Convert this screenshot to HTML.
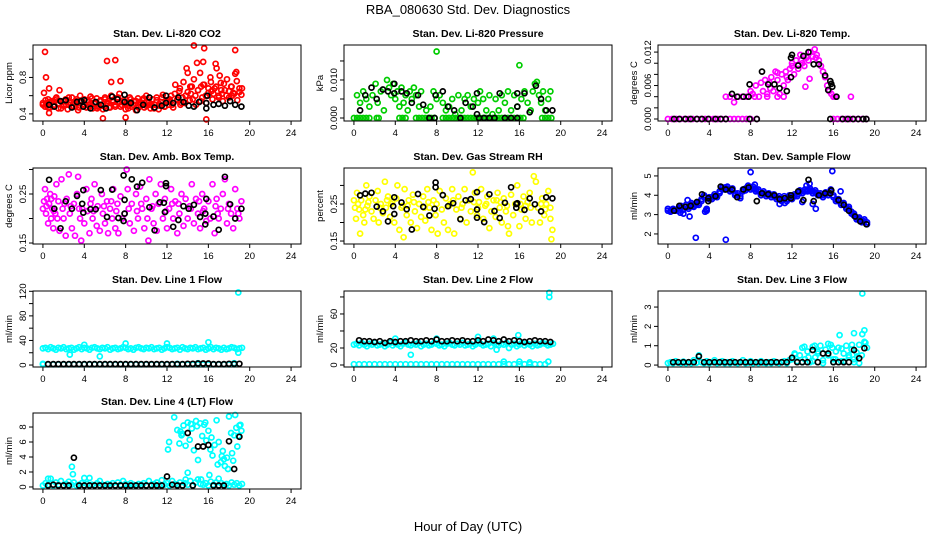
<!DOCTYPE html>
<html><head><meta charset="utf-8"><style>
html,body{margin:0;padding:0;background:#fff}
svg{display:block;font-family:"Liberation Sans",Arial,sans-serif}
</style></head><body>
<svg id="chart" width="936" height="540" viewBox="0 0 936 540">
<rect width="936" height="540" fill="#fff"/>
<text x="468" y="14" text-anchor="middle" font-size="13">RBA_080630  Std. Dev. Diagnostics</text>
<text x="468" y="531" text-anchor="middle" font-size="13">Hour of Day (UTC)</text>
</svg>
<script>
const qh=[0,0.25,0.5,0.75,1,1.25,1.5,1.75,2,2.25,2.5,2.75,3,3.25,3.5,3.75,4,4.25,4.5,4.75,5,5.25,5.5,5.75,6,6.25,6.5,6.75,7,7.25,7.5,7.75,8,8.25,8.5,8.75,9,9.25,9.5,9.75,10,10.25,10.5,10.75,11,11.25,11.5,11.75,12,12.25,12.5,12.75,13,13.25,13.5,13.75,14,14.25,14.5,14.75,15,15.25,15.5,15.75,16,16.25,16.5,16.75,17,17.25,17.5,17.75,18,18.25,18.5,18.75,19,19.25];
const hh=[0.5,1,1.5,2,2.5,3,3.5,4,4.5,5,5.5,6,6.5,7,7.5,8,8.5,9,9.5,10,10.5,11,11.5,12,12.5,13,13.5,14,14.5,15,15.5,16,16.5,17,17.5,18,18.5,19];
const xTicks=[0,4,8,12,16,20,24];

const co2Band=[.5,.55,.47,.53,.49,.57,.51,.46,.54,.5,.58,.48,.52,.56,.47,.53,.5,.55,.48,.57,.51,.46,.54,.49,.56,.52,.47,.55,.5,.58,.48,.53,.51,.46,.56,.5,.54,.47,.52,.57,.49,.53,.5,.46,.55,.51,.58,.48,.53,.56,.5,.62,.55,.68,.58,.52,.64,.7,.56,.6,.66,.54,.72,.6,.68,.75,.62,.7,.58,.66,.73,.6,.65,.7,.62,.76,.64,.68];
const co2Red=[[0,.52],[.1,.63],[.3,.5],[.5,.56],[.7,.47],[.9,.54],[1.1,.5],[1.3,.58],[1.5,.46],[1.6,.66],[1.8,.53],[2,.49],[2.2,.56],[2.4,.45],[2.6,.52],[2.8,.58],[3,.48],[3.2,.54],[3.4,.44],[3.6,.6],[3.8,.5],[4,.56],[4.2,.47],[4.4,.53],[4.6,.59],[4.8,.46],[5,.52],[5.2,.57],[5.4,.49],[5.6,.55],[5.8,.45],[6,.58],[6.2,.51],[6.4,.47],[6.6,.6],[6.8,.53],[7,.48],[7.2,.56],[7.4,.62],[7.6,.5],[7.8,.55],[8,.45],[8.2,.52],[8.4,.58],[8.6,.48],[8.8,.54],[9,.44],[9.2,.57],[9.4,.5],[9.6,.55],[9.8,.47],[10,.6],[10.2,.52],[10.4,.46],[10.6,.56],[10.8,.5],[11,.58],[11.2,.45],[11.4,.53],[11.6,.61],[11.8,.48],[12,.55],[12.2,.5],[12.4,.6],[12.6,.47],[12.8,.72],[13,.56],[13.2,.65],[13.4,.52],[13.6,.75],[13.8,.6],[14,.85],[14.2,.55],[14.4,.7],[14.6,.78],[14.8,.5],[15,.66],[15.2,.85],[15.4,.58],[15.6,.72],[15.8,.52],[16,.63],[16.2,.8],[16.4,.56],[16.6,.68],[16.8,.9],[17,.6],[17.2,.74],[17.4,.54],[17.6,.66],[17.8,.78],[18,.58],[18.2,.7],[18.4,.63],[18.6,.84],[18.8,.55],[19,.68],[19.2,.61],[.2,.48],[.6,.53],[1.2,.55],[2.5,.5],[3.3,.51],[4.5,.5],[5.3,.48],[6.3,.54],[7.3,.52],[8.3,.49],[9.3,.53],[10.3,.5],[11.3,.49],[12.3,.53],[13.3,.5],[14.3,.62],[15.3,.7],[16.3,.65],[17.3,.62],[18.3,.6],[13.9,.9],[14.9,.96],[16.7,.95],[17.1,.82],[18.7,.86],[15.5,.97],[.2,1.08],[.3,.8],[.6,.68],[6.2,.98],[7,.99],[6.6,.75],[7.5,.76],[5.8,.35],[8,.36],[14.6,1.15],[15.6,1.12],[18.6,1.1],[15.8,.34],[.6,.41]];
const co2Black=[[.6,.5],[1.1,.48],[1.7,.54],[2.2,.55],[2.8,.47],[3.3,.53],[3.7,.54],[3.9,.48],[4,.55],[4.6,.46],[5.1,.53],[5.6,.5],[6.1,.46],[6.7,.59],[7.2,.56],[7.9,.53],[7.9,.61],[8.5,.52],[9.1,.44],[9.7,.5],[10.3,.58],[10.8,.47],[11.5,.49],[11.9,.52],[11.9,.6],[12.6,.52],[13.1,.58],[13.6,.53],[14.1,.49],[14.6,.48],[15.1,.53],[15.8,.52],[15.8,.46],[15.9,.6],[16.5,.5],[17,.51],[17.6,.49],[18.1,.54],[18.6,.5],[19.2,.48]];

const presGreen=[[0,0],[.3,0],[.6,0],[.9,0],[1.2,0],[1.5,0],[2.2,0],[2.4,0],[4.4,0],[4.7,0],[5,0],[6,0],[6.3,0],[6.6,0],[6.9,0],[7.2,0],[7.5,0],[7.8,0],[8.6,0],[8.9,0],[9.2,0],[9.5,0],[9.8,0],[10.1,0],[10.4,0],[10.7,0],[11,0],[11.3,0],[11.6,0],[11.9,0],[12.2,0],[12.5,0],[12.8,0],[13.1,0],[13.4,0],[13.7,0],[14,0],[14.3,0],[14.6,0],[14.9,0],[15.2,0],[15.5,0],[15.8,0],[16.1,0],[16.4,0],[18.2,0],[18.5,0],[18.8,0],[19.1,0],[.3,.006],[.6,.004],[.9,.007],[1.2,.005],[1.5,.003],[1.8,.006],[2.1,.009],[2.3,.004],[2.6,.007],[2.9,.002],[3.2,.01],[3.4,.008],[3.6,.006],[3.8,.009],[4,.005],[4.2,.007],[4.4,.003],[4.6,.008],[4.8,.004],[5,.006],[5.2,.002],[5.4,.007],[5.6,.005],[5.8,.008],[6,.006],[6.3,.003],[6.5,.007],[7,.002],[7.4,.003],[7.7,.007],[8,.005],[8,.0175],[8.3,.006],[8.6,.004],[8.9,.002],[9.2,.003],[9.5,.005],[9.8,.001],[10.1,.006],[10.4,.002],[10.7,.005],[11,.006],[11.3,.003],[11.6,.005],[12,.004],[12.2,.007],[12.5,.005],[12.8,.002],[13.1,.006],[13.4,.001],[13.7,.005],[14,.002],[14.3,.006],[14.6,.004],[14.9,.007],[15.2,.002],[15.5,.006],[15.8,.003],[16,.0139],[16.2,.005],[16.5,.007],[16.8,.004],[17.1,.002],[17.3,.007],[17.5,.009],[17.7,.0095],[17.9,.006],[18.1,.004],[18.3,.007],[18.5,.002],[18.8,.005],[19,.007]];
const presBlack=[[.6,.002],[1.1,.006],[1.7,.008],[2.2,.005],[2.8,.0075],[3.3,.007],[3.9,.0065],[3.9,.009],[4.6,.007],[5.1,.0065],[5.6,.004],[6.2,.006],[6.7,.0035],[7.3,0],[7.8,0],[7.9,.006],[8.6,.007],[9.1,.003],[9.7,.002],[10.3,0],[10.8,.004],[11.5,.003],[11.9,.001],[11.9,.0065],[12.1,0],[12.6,0],[13.1,0],[13.6,0],[14.1,.0065],[14.6,0],[15.2,0],[15.8,.0065],[15.8,.003],[15.8,0],[16.5,.0065],[17,.0015],[17.6,.0085],[18.1,.005],[18.6,.002],[19.2,.002]];

const tempMag=[[0,0],[.4,0],[.8,0],[1.2,0],[1.6,0],[2,0],[2.4,0],[2.8,0],[3.2,0],[3.6,0],[4,0],[4.4,0],[4.8,0],[5.2,0],[5.6,0],[6,0],[6.4,0],[6.8,0],[7.2,0],[7.6,0],[8,0],[8.6,0],[16,0],[16.4,0],[16.8,0],[17.2,0],[17.6,0],[18,0],[18.4,0],[18.8,0],[19.2,0],[5.6,.004],[6,.004],[6.4,.003],[6.8,.004],[7.2,.004],[7.6,.004],[8,.005],[8.2,.0045],[8.5,.006],[8.8,.004],[9,.0065],[9.2,.005],[9.4,.007],[9.6,.0045],[9.8,.0065],[10,.0075],[10.2,.005],[10.4,.0085],[10.6,.007],[10.8,.0045],[11,.008],[11.2,.006],[11.4,.0085],[11.6,.007],[11.8,.009],[12,.0095],[12.2,.008],[12.4,.0105],[12.6,.009],[12.8,.0115],[13,.01],[13.2,.0095],[13.4,.011],[13.6,.0105],[13.8,.012],[14,.0112],[14.2,.0125],[14.4,.0115],[14.6,.0105],[14.8,.0095],[15,.0085],[15.2,.0075],[15.4,.006],[15.6,.005],[15.8,.0045],[16,.004],[16.2,.004],[17.7,.004],[13.3,.0058],[13.7,.0072],[10.6,.0083],[12,.01],[12.9,.0105],[14.3,.011],[11.5,.0075],[9.9,.0055],[8.4,.004],[9.6,.004],[10.6,.004],[11.2,.004]];
const tempBlack=[[.6,0],[1.1,0],[1.7,0],[2.2,0],[2.8,0],[3.3,0],[3.9,0],[4.6,0],[5.1,0],[5.6,0],[7.9,0],[8.6,0],[15.7,0],[16.9,0],[17.4,0],[17.9,0],[18.4,0],[18.9,0],[19.2,0],[6.2,.0045],[6.7,.004],[7.3,.004],[7.8,.004],[7.9,.0062],[9.1,.0085],[9.7,.0062],[10.3,.0062],[10.8,.0055],[11.5,.005],[11.9,.0075],[11.9,.011],[12,.0115],[12.6,.0096],[13.1,.0113],[13.6,.012],[14.1,.0098],[14.6,.0098],[15.2,.0078],[15.7,.0068],[15.8,.0063],[15.9,.0058],[16.3,.004],[15.5,.0052]];

const ambMag=[[0,.22],[.1,.235],[.2,.26],[.3,.21],[.4,.24],[.5,.19],[.6,.23],[.7,.25],[.8,.2],[.9,.22],[1,.18],[1.1,.245],[1.2,.21],[1.3,.27],[1.4,.2],[1.5,.235],[1.6,.175],[1.8,.28],[1.9,.22],[2,.2],[2.2,.165],[2.3,.24],[2.5,.29],[2.6,.21],[2.8,.18],[3,.23],[3.1,.165],[3.3,.25],[3.4,.285],[3.6,.2],[3.7,.155],[3.8,.22],[4,.19],[4.2,.26],[4.3,.215],[4.5,.17],[4.7,.24],[4.8,.2],[5,.27],[5.2,.185],[5.3,.225],[5.5,.175],[5.7,.25],[5.8,.21],[6,.19],[6.2,.235],[6.3,.17],[6.5,.22],[6.7,.2],[6.8,.26],[7,.18],[7.2,.23],[7.3,.17],[7.5,.245],[7.7,.2],[7.9,.21],[8.1,.3],[8.2,.26],[8.4,.19],[8.6,.23],[8.8,.175],[9,.25],[9.2,.2],[9.4,.265],[9.6,.22],[9.8,.18],[10,.24],[10.1,.2],[10.2,.155],[10.3,.28],[10.5,.22],[10.7,.19],[10.9,.25],[11,.175],[11.2,.23],[11.4,.27],[11.6,.2],[11.8,.24],[12,.18],[12.2,.22],[12.4,.26],[12.6,.2],[12.8,.235],[13,.17],[13.2,.21],[13.4,.25],[13.6,.185],[13.8,.24],[14,.2],[14.2,.225],[14.4,.27],[14.6,.19],[14.8,.24],[15,.21],[15.2,.18],[15.4,.25],[15.6,.22],[15.8,.195],[16,.235],[16.2,.2],[16.4,.27],[16.6,.17],[16.8,.24],[17,.2],[17.2,.22],[17.4,.25],[17.6,.28],[17.8,.19],[18,.23],[18.2,.21],[18.4,.18],[18.6,.26],[18.8,.22],[19,.2],[19.2,.235],[.35,.225],[1.05,.215],[2.1,.23],[3.5,.22],[4.6,.23],[5.9,.225],[7.1,.215],[8.3,.22],[9.5,.23],[10.6,.225],[11.9,.215],[13.1,.23],[14.3,.22],[15.5,.215],[16.7,.225],[17.9,.22],[18.9,.21],[.8,.24],[2.7,.225],[4.9,.215],[6.6,.235],[9.1,.215],[12.5,.23],[15.1,.235],[16.9,.21]];
const ambBlack=[[.6,.279],[1.1,.22],[1.7,.18],[2.2,.235],[2.8,.22],[3.3,.246],[3.8,.23],[3.9,.212],[3.9,.258],[4.6,.219],[5.1,.219],[5.6,.258],[6.2,.203],[6.7,.259],[7.3,.201],[7.8,.195],[7.9,.21],[7.9,.238],[7.8,.288],[8.6,.28],[9.1,.265],[9.6,.273],[10.3,.223],[10.8,.176],[11.3,.233],[11.7,.232],[11.8,.213],[11.9,.266],[11.9,.272],[12.6,.183],[13.1,.197],[13.6,.225],[14.1,.22],[14.6,.228],[15.2,.203],[15.7,.21],[15.7,.188],[15.8,.24],[16.5,.204],[17,.177],[17.6,.285],[18.1,.229],[18.6,.2],[19.2,.22]];

const rhYel=[[0,.26],[.1,.24],[.2,.21],[.3,.28],[.5,.235],[.6,.17],[.7,.26],[.9,.22],[1,.2],[1.2,.3],[1.3,.245],[1.5,.27],[1.7,.23],[1.9,.21],[2.1,.26],[2.3,.285],[2.4,.2],[2.6,.25],[2.8,.225],[3,.31],[3.1,.24],[3.3,.27],[3.5,.215],[3.7,.255],[3.9,.2],[4.1,.265],[4.2,.3],[4.4,.18],[4.6,.24],[4.8,.16],[4.9,.29],[5.1,.22],[5.3,.26],[5.5,.2],[5.7,.275],[5.9,.23],[6.1,.185],[6.3,.25],[6.5,.215],[6.7,.27],[6.9,.205],[7.1,.29],[7.3,.24],[7.5,.18],[7.7,.26],[7.9,.22],[8.1,.17],[8.3,.285],[8.5,.235],[8.7,.2],[8.9,.265],[9.1,.18],[9.3,.25],[9.5,.29],[9.7,.17],[9.9,.235],[10.1,.27],[10.3,.21],[10.5,.25],[10.7,.29],[10.9,.2],[11.1,.26],[11.3,.23],[11.5,.335],[11.7,.28],[11.9,.22],[12.1,.255],[12.3,.29],[12.5,.21],[12.7,.245],[12.9,.27],[13.1,.185],[13.3,.23],[13.5,.26],[13.7,.215],[13.9,.28],[14.1,.24],[14.3,.2],[14.5,.265],[14.7,.23],[14.9,.19],[15,.17],[15.2,.275],[15.4,.22],[15.6,.25],[15.8,.3],[16,.19],[16.2,.235],[16.4,.27],[16.6,.21],[16.8,.255],[17,.28],[17.2,.2],[17.4,.325],[17.6,.31],[17.8,.24],[18,.2],[18.2,.265],[18.4,.22],[18.6,.25],[18.8,.285],[19,.21],[19.1,.155],[19.2,.18],[.4,.25],[1.4,.255],[2.5,.24],[3.6,.25],[4.7,.245],[5.8,.255],[6.8,.24],[8,.25],[9.2,.245],[10.4,.24],[11.6,.255],[12.8,.25],[13.8,.26],[14.8,.245],[16.1,.25],[17.1,.24],[18.1,.25],[19,.24],[1.1,.235],[3.2,.26],[5.2,.245],[7.2,.255],[9.6,.26],[12,.24],[14.2,.255],[16.6,.245],[18.5,.235]];
const rhBlack=[[.6,.273],[1.1,.278],[1.7,.28],[2.2,.243],[2.8,.23],[3.3,.203],[3.8,.244],[3.9,.223],[3.9,.268],[4.6,.254],[5.1,.236],[5.6,.181],[6.2,.277],[6.7,.242],[7.3,.219],[7.8,.237],[7.9,.295],[7.9,.308],[8.6,.274],[9.1,.244],[9.6,.252],[10.3,.209],[10.8,.26],[11.3,.263],[11.9,.213],[11.9,.235],[11.9,.282],[12.6,.201],[13.1,.276],[13.6,.231],[14.1,.212],[14.6,.253],[15.2,.295],[15.7,.25],[15.7,.24],[15.8,.252],[16.5,.234],[17,.265],[17.5,.249],[18.1,.23],[18.6,.268],[19.2,.265]];

const flowBand=[3.2,3.2,3.25,3.2,3.3,3.35,3.3,3.4,3.4,3.5,3.45,3.5,3.6,3.7,3.9,3.3,3.8,3.9,3.95,4,4.2,4.3,4.4,4.35,4.3,4.25,4.1,4,3.95,4.2,4.35,4.4,4.4,4.35,4.3,4.2,4.1,4.1,4.05,4,4,3.95,3.9,3.85,3.8,3.85,3.8,3.9,3.9,3.95,4.05,4.15,4.2,4.2,4.3,4.25,4.2,4.15,4.1,4,4,4.05,4.1,4.2,3.9,3.8,3.7,3.6,3.5,3.4,3.3,3.15,2.95,2.85,2.75,2.7,2.65,2.6];
const flowBand2=[3.3,3.15,3.3,3.25,3.2,3.45,3.25,3.5,3.3,3.6,3.4,3.6,3.5,3.8,4,3.2,3.9,3.8,4.05,3.9,4.1,4.4,4.3,4.45,4.2,4.35,4,4.1,3.85,4.3,4.25,4.5,4.3,4.45,4.2,4.3,4,4.2,3.95,4.1,3.9,4.05,3.8,3.95,3.7,3.95,3.7,4,3.8,4.05,3.95,4.25,4.1,4.3,4.2,4.35,4.1,4.25,4,4.1,3.9,4.15,4,4.3,4,3.7,3.8,3.5,3.6,3.3,3.4,3.05,3.05,2.75,2.85,2.6,2.75,2.5];
const flowOut=[[2.7,1.8],[5.6,1.7],[8,5.2],[15.9,5.25],[13.7,4.6],[14.3,3.3],[2.1,2.9],[1.9,3.75],[1.5,3.05],[14,3.55],[16.7,4.2],[13.4,4.5],[8.4,4.55],[10.8,3.55],[11.3,3.6],[13,3.65],[3.6,3.15],[3.7,3.25],[1.2,3.1]];
const flowBlack=[[.6,3.2],[1.1,3.45],[1.7,3.4],[2.2,3.45],[2.8,3.65],[3.3,4.05],[3.9,3.7],[3.9,3.85],[4.6,3.95],[5.1,4.45],[5.6,4.3],[6.2,4.3],[6.7,3.9],[7.3,4.3],[7.8,4.4],[8.6,3.7],[9.1,4.1],[9.7,4.05],[10.3,4],[10.8,3.8],[11.3,3.85],[11.9,4],[11.9,3.85],[12.6,4.2],[13.1,3.75],[13.6,4.8],[14.1,3.7],[14.6,4],[15.2,4.1],[15.7,4.1],[15.8,4.25],[16.5,3.75],[17,3.5],[17.5,3.2],[18.1,2.9],[18.6,2.65],[19.2,2.5]];

const l1Band=[27,28,26,29,27,25,28,27,29,26,27,28,25,27,29,26,28,27,25,28,29,27,26,28,27,29,25,27,28,26,27,29,28,26,27,25,28,29,27,26,28,27,29,26,27,28,25,27,29,28,26,27,28,25,29,27,26,28,27,29,26,27,28,25,27,29,26,28,27,25,28,26,27,29,28,26,27,28];
const l1Zero=[1,1,1,1,1,1,1,1,1,1,1,1,1,1,1,1,1,1,1,1,1,1,1,1,1,1,1,1,1,1,1,1,1,1,1,1,1,1];
const l1Out=[[2.6,17],[5.5,14],[18.9,118],[18.9,20],[4,33],[8,35],[12,35],[16,37],[0,2],[13,2],[15,3],[18.5,3]];
const l1Black=[1.5,1.5,1.5,1.5,1.5,1.5,1.5,1.5,1.5,1.5,1.5,1.5,1.5,1.5,1.5,1.5,1.5,1.5,1.5,1.5,1.5,1.5,1.5,1.5,1.5,1.5,1.5,2,2,2.5,2.5,2.5,1.5,1.5,1.5,2,2,2];

const l2Band=[24,25,23,26,24,22,25,24,26,23,24,25,22,24,26,23,25,24,22,25,26,24,23,25,24,26,22,24,25,23,24,26,25,23,24,22,25,26,24,23,25,24,26,23,24,25,22,24,26,25,23,24,25,22,26,24,23,25,24,26,20,24,25,22,24,26,23,25,24,22,25,23,24,26,25,23,24,25];
const l2Zero=[1,1,1,1,1,1,1,1,1,1,1,1,1,1,1,1,1,1,1,1,1,1,1,1,1,1,1,1,1,1,1,1,1,1,1,1,1,1];
const l2Out=[[18.9,85],[18.9,80],[5.5,12],[15.9,35],[12,33],[8,31],[4,31],[13.5,31],[13.8,18],[14.5,4],[16,4],[17,3],[18.8,4]];
const l2Black=[29,28,28,27,28,26,28,27,28,28,29,28,28,29,28,30,28,28,29,28,29,28,28,29,28,30,29,28,30,28,29,28,27,28,29,28,28,27];

const l3Band=[.1,.15,.1,.2,.12,.1,.18,.1,.15,.1,.25,.12,.5,.15,.1,.2,.1,.15,.25,.1,.12,.2,.1,.15,.1,.2,.12,.1,.15,.25,.1,.12,.2,.1,.15,.1,.2,.12,.1,.15,.1,.2,.12,.1,.15,.2,.1,.25,.3,.6,.2,.5,.9,.3,.7,.15,.95,.4,.6,1,.25,.8,.5,1.05,.3,.7,.9,.2,.6,1,.4,.8,.3,.65,1.05,.5,1.2,.9];
const l3Out=[[13,.15],[14,.2],[15,.1],[16,.15],[17,.2],[18,.15],[18.5,.1],[14.5,.7],[16.6,1.55],[18,1.65],[18.8,1.6],[19,1.8],[18.8,3.7],[19.1,1.15],[13.2,.95],[15.5,1.1],[17.5,.5],[12.3,.55],[16.8,.85],[18.3,.45],[14.2,1],[15.9,.9],[17.8,1.05],[13.6,.4],[16.2,.3]];
const l3Black=[.15,.15,.15,.15,.15,.45,.15,.15,.15,.15,.15,.15,.15,.15,.15,.15,.15,.15,.15,.15,.15,.15,.15,.38,.15,.15,.15,.78,.15,.6,.6,.15,.15,.15,.15,.78,.35,.87];

const l4Band=[.2,.5,.3,1.1,.2,.6,.3,.8,.2,.4,.7,.3,.6,.2,.3,.5,.2,.4,1.2,.3,.2,.5,.8,.3,.2,.4,.3,.5,.2,.6,.3,.8,.4,.2,.5,.3,.2,.4,.3,.5,.2,.8,.3,.4,.6,.2,.9,.3,.5,.2,.8,.4,.3,.6,.2,.5,.3,.8,.2,.6,1,.4,.3,.5,.2,.7,.3,.6,.2,.5,.3,.4,.2,.6,.3,.5,.2,.4];
const l4Out=[[12.7,9.3],[13,7.6],[13.2,5.8],[13.4,6.9],[13.6,8.2],[13.8,5.5],[14,8.6],[14.2,6.3],[14.4,7.8],[14.6,4.9],[14.8,8.8],[15,3.6],[15.2,8.5],[15.4,6.8],[15.6,8.3],[15.8,6.2],[16,7.5],[16.2,5],[16.4,4.2],[16.6,5.6],[16.8,8.9],[17,6],[17.2,3.3],[17.4,4.8],[17.6,2.8],[17.8,3.9],[18,9.4],[18.2,7.2],[18.4,3.5],[18.6,9.6],[18.8,5.4],[19,8.2],[19.2,7.5],[18.9,6.8],[17.3,4.1],[16.1,1.6],[15.3,1],[14,1.9],[13.8,1],[12.2,6],[12.1,5],[17.9,2.4],[18.3,4.5],[16.9,3],[2.8,2.7],[2.9,1.7],[4,1.2],[.5,1.1],[13.5,7.1],[17,1.1],[15.7,8.6],[14.3,8.4],[13.3,7.4],[14.9,8.1],[16.3,6.6],[17.5,3.7],[18.7,7.9],[19.1,8.3],[18.5,6.9]];
const l4Black=[.2,.3,.2,.2,.2,3.9,.2,.2,.2,.2,.2,.2,.2,.2,.2,.2,.2,.2,.2,.2,.2,.2,.2,1.4,.3,.2,.2,7.2,.2,5.4,5.4,5.6,.2,.2,.2,6.1,2.4,6.7];

const pairs=(xs,ys)=>ys.map((v,i)=>[xs[i],v]).filter(p=>p[0]!==undefined);

const panels=[
 {c:0,r:0,title:"Stan. Dev. Li-820 CO2",ylab:"Licor ppm",lo:.322,hi:1.156,ticks:[.4,.6,.8,1.0],labels:[[.4,"0.4"],[.8,"0.8"]],color:"#ff0000",sets:[co2Red,pairs(qh,co2Band)],black:[co2Black]},
 {c:1,r:0,title:"Stan. Dev. Li-820 Pressure",ylab:"kPa",lo:-.00079,hi:.0192,ticks:[0,.005,.01,.015],labels:[[0,"0.000"],[.01,"0.010"]],color:"#00cd00",sets:[presGreen],black:[presBlack]},
 {c:2,r:0,title:"Stan. Dev. Li-820 Temp.",ylab:"degrees C",lo:-.00036,hi:.01327,ticks:[0,.002,.004,.006,.008,.01,.012],labels:[[0,"0.000"],[.006,"0.006"],[.012,"0.012"]],color:"#ff00ff",sets:[tempMag],black:[tempBlack]},
 {c:0,r:1,title:"Stan. Dev. Amb. Box Temp.",ylab:"degrees C",lo:.148,hi:.303,ticks:[.15,.2,.25,.3],labels:[[.15,"0.15"],[.25,"0.25"]],color:"#ff00ff",sets:[ambMag],black:[ambBlack]},
 {c:1,r:1,title:"Stan. Dev. Gas Stream RH",ylab:"percent",lo:.142,hi:.347,ticks:[.15,.2,.25,.3],labels:[[.15,"0.15"],[.25,"0.25"]],color:"#ffff00",sets:[rhYel],black:[rhBlack]},
 {c:2,r:1,title:"Stan. Dev. Sample Flow",ylab:"ml/min",lo:1.48,hi:5.41,ticks:[2,3,4,5],labels:[[2,"2"],[3,"3"],[4,"4"],[5,"5"]],color:"#0000ff",sets:[pairs(qh,flowBand),pairs(qh,flowBand2),flowOut],black:[flowBlack]},
 {c:0,r:2,title:"Stan. Dev. Line 1 Flow",ylab:"ml/min",lo:-3.2,hi:120.5,ticks:[0,20,40,60,80,100,120],labels:[[0,"0"],[40,"40"],[80,"80"],[120,"120"]],color:"#00ffff",sets:[pairs(qh,l1Band),pairs([0].concat(hh),l1Zero),l1Out],black:[pairs(hh,l1Black)]},
 {c:1,r:2,title:"Stan. Dev. Line 2 Flow",ylab:"ml/min",lo:-2.35,hi:87,ticks:[0,20,40,60,80],labels:[[0,"0"],[20,"20"],[60,"60"]],color:"#00ffff",sets:[pairs(qh,l2Band),pairs([0].concat(hh),l2Zero),l2Out],black:[pairs(hh,l2Black)]},
 {c:2,r:2,title:"Stan. Dev. Line 3 Flow",ylab:"ml/min",lo:-.1,hi:3.83,ticks:[0,1,2,3],labels:[[0,"0"],[1,"1"],[2,"2"],[3,"3"]],color:"#00ffff",sets:[pairs(qh,l3Band),l3Out],black:[pairs(hh,l3Black)]},
 {c:0,r:3,title:"Stan. Dev. Line 4 (LT) Flow",ylab:"ml/min",lo:-.27,hi:9.87,ticks:[0,2,4,6,8],labels:[[0,"0"],[2,"2"],[4,"4"],[6,"6"],[8,"8"]],color:"#00ffff",sets:[pairs(qh,l4Band),l4Out],black:[pairs(hh,l4Black)]}
];

const NS="http://www.w3.org/2000/svg";
const svg=document.getElementById('chart');
const colLeft=[33,344,658], rowTop=[45,168,291,413], W=268, H=76;
function mk(tag,attrs,parent,text){const e=document.createElementNS(NS,tag);for(const k in attrs)e.setAttribute(k,attrs[k]);if(text!==undefined)e.textContent=text;parent.appendChild(e);return e;}

panels.forEach((p,pi)=>{
  const x0=colLeft[p.c], y0=rowTop[p.r];
  const sx=v=>x0+(v+0.96)/25.92*W;
  const sy=v=>y0+H-(v-p.lo)/(p.hi-p.lo)*H;
  const g=mk('g',{},svg);
  
  
  const t=mk('text',{x:x0+W/2,y:y0-8,'text-anchor':'middle','font-size':'10.5','font-weight':'bold'},g,p.title);
  
  
  const xa=mk('g',{},g);
  
  
  mk('line',{x1:sx(0),x2:sx(24),y1:y0+H,y2:y0+H,stroke:'#000','stroke-width':1},xa);
  xTicks.forEach(v=>{
    mk('line',{x1:sx(v),x2:sx(v),y1:y0+H,y2:y0+H+4,stroke:'#000','stroke-width':1},xa);
    const l=mk('text',{x:sx(v),y:y0+H+15,'text-anchor':'middle','font-size':'9.5'},xa,String(v));
    
    
  });
  const ya=mk('g',{},g);
  
  
  p.ticks.forEach(v=>{
    mk('line',{x1:x0-4,x2:x0,y1:sy(v),y2:sy(v),stroke:'#000','stroke-width':1},ya);
  });
  p.labels.forEach(([v,s])=>{
    const l=mk('text',{x:x0-7,y:sy(v),'text-anchor':'middle','font-size':'9.5',transform:`rotate(-90 ${x0-7} ${sy(v)})`},ya,s);
    
    
  });
  const yl=mk('text',{x:x0-21,y:y0+H/2,'text-anchor':'middle','font-size':'9.5',transform:`rotate(-90 ${x0-21} ${y0+H/2})`},ya,p.ylab);
  
  
  const pts=mk('g',{fill:'none','stroke-width':1.7},g);
  
  
  p.sets.forEach(set=>set.forEach(([x,y])=>{
    const c=mk('circle',{cx:sx(x).toFixed(1),cy:sy(y).toFixed(1),r:2.5,stroke:p.color},pts);
    
    
  }));
  p.black.forEach(set=>set.forEach(([x,y])=>{
    const c=mk('circle',{cx:sx(x).toFixed(1),cy:sy(y).toFixed(1),r:2.5,stroke:'#000'},pts);
    
    
  }));
  const box=mk('rect',{x:x0,y:y0,width:W,height:H,fill:'none',stroke:'#000','stroke-width':1},g);
  
  
});
</script>
</body></html>
